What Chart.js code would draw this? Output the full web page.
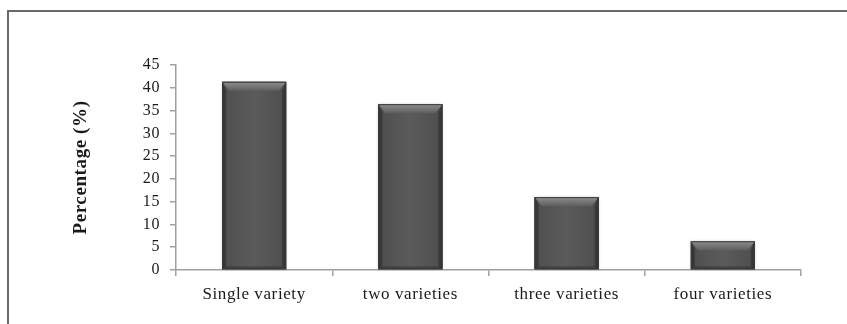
<!DOCTYPE html>
<html>
<head>
<meta charset="utf-8">
<script src="https://cdn.jsdelivr.net/npm/chart.js@4/dist/chart.umd.min.js"></script>
<style>
  html, body { margin: 0; padding: 0; background: #fff; overflow: hidden; }
  #wrap { position: relative; width: 847px; height: 324px; }
  #frame {
    position: absolute; left: 7px; top: 10px; width: 900px; height: 400px;
    border: 2px solid #6a6a6a; box-sizing: border-box;
  }
  canvas { position: absolute; left: 0; top: 0; }
</style>
</head>
<body>
<div id="wrap">
  <div id="frame"></div>
  <canvas id="chart" width="847" height="324"></canvas>
</div>
<script>
// Share of respondents by number of varieties grown
const categories = ['Single variety', 'two varieties', 'three varieties', 'four varieties'];
const percentages = [41.3, 36.4, 16.0, 6.3];
const yTicks = [0, 5, 10, 15, 20, 25, 30, 35, 40, 45];

const serif = '"Liberation Serif", "Times New Roman", serif';

// Slightly open letter spacing for all axis text
const textSpacing = {
  id: 'textSpacing',
  beforeDraw(chart) {
    if ('letterSpacing' in chart.ctx) chart.ctx.letterSpacing = '0.6px';
  }
};

// Bevelled, shaded look for each column
const bevelBars = {
  id: 'bevelBars',
  afterDatasetsDraw(chart) {
    const ctx = chart.ctx;
    chart.getDatasetMeta(0).data.forEach(bar => {
      const { x, y, base, width } = bar.getProps(['x', 'y', 'base', 'width'], true);
      const l = x - width / 2, r = x + width / 2, t = y, b = base;
      const h = b - t;
      const bev = Math.min(9, h / 3);
      const side = 4;
      ctx.save();
      // soft shadow around the column
      ctx.shadowColor = 'rgba(0,0,0,0.25)';
      ctx.shadowBlur = 3;
      ctx.fillStyle = '#555';
      ctx.fillRect(l, t, width, h);
      ctx.shadowColor = 'transparent';
      // body shading
      const g = ctx.createLinearGradient(l, 0, r, 0);
      g.addColorStop(0, '#3e3e3e');
      g.addColorStop(0.08, '#505050');
      g.addColorStop(0.5, '#5b5b5b');
      g.addColorStop(0.92, '#505050');
      g.addColorStop(1, '#3e3e3e');
      ctx.fillStyle = g;
      ctx.fillRect(l, t, width, h);
      // top bevel
      const tg = ctx.createLinearGradient(0, t, 0, t + bev);
      tg.addColorStop(0, '#8e8e8e');
      tg.addColorStop(1, '#5e5e5e');
      ctx.fillStyle = tg;
      ctx.beginPath();
      ctx.moveTo(l, t);
      ctx.lineTo(r, t);
      ctx.lineTo(r - side - 3, t + bev);
      ctx.lineTo(l + side + 3, t + bev);
      ctx.closePath();
      ctx.fill();
      // side bevels
      ctx.fillStyle = 'rgba(30,30,30,0.35)';
      ctx.beginPath();
      ctx.moveTo(l, t); ctx.lineTo(l + side, t + bev); ctx.lineTo(l + side, b - 2); ctx.lineTo(l, b);
      ctx.closePath(); ctx.fill();
      ctx.beginPath();
      ctx.moveTo(r, t); ctx.lineTo(r - side, t + bev); ctx.lineTo(r - side, b - 2); ctx.lineTo(r, b);
      ctx.closePath(); ctx.fill();
      // bottom bevel
      ctx.fillStyle = 'rgba(40,40,40,0.4)';
      ctx.fillRect(l + side, b - 3, width - 2 * side, 3);
      // outline
      ctx.strokeStyle = '#3a3a3a';
      ctx.lineWidth = 1;
      ctx.strokeRect(l + 0.5, t + 0.5, width - 1, h - 1);
      ctx.restore();
    });
  }
};

new Chart(document.getElementById('chart'), {
  type: 'bar',
  data: {
    labels: categories,
    datasets: [{
      data: percentages,
      backgroundColor: '#555555',
      borderWidth: 0,
      categoryPercentage: 0.41,
      barPercentage: 1.0
    }]
  },
  options: {
    responsive: false,
    animation: false,
    devicePixelRatio: 1,
    layout: { padding: { left: 68, right: 46, top: 65, bottom: 6 } },
    plugins: { legend: { display: false }, tooltip: { enabled: false } },
    scales: {
      x: {
        grid: {
          display: true, drawOnChartArea: false, drawTicks: true,
          tickLength: 6, color: '#a0a0a0', lineWidth: 1.5, offset: true
        },
        border: { display: true, color: '#a0a0a0', width: 1.5 },
        ticks: { color: '#1a1a1a', font: { family: serif, size: 17 }, padding: 8, maxRotation: 0, autoSkip: false },
        afterFit(scale) { scale.height = 324 - 270 - 6; }
      },
      y: {
        min: 0, max: 45,
        afterBuildTicks(scale) { scale.ticks = yTicks.map(v => ({ value: v })); },
        grid: {
          display: true, drawOnChartArea: false, drawTicks: true,
          tickLength: 6, color: '#a0a0a0', lineWidth: 1.5
        },
        border: { display: true, color: '#a0a0a0', width: 1.5 },
        ticks: { color: '#1a1a1a', font: { family: serif, size: 16 }, padding: 10, autoSkip: false },
        title: {
          display: true, text: 'Percentage (%)', color: '#1a1a1a',
          font: { family: serif, size: 19, weight: 'bold' }, padding: { top: 2, bottom: 0 }
        },
        afterFit(scale) { scale.width = 176 - 68; }
      }
    }
  },
  plugins: [textSpacing, bevelBars]
});
</script>
</body>
</html>
